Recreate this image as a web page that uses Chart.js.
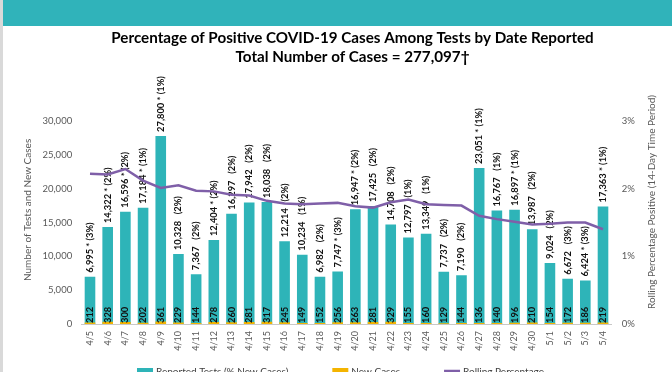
<!DOCTYPE html>
<html><head><meta charset="utf-8">
<script src="https://cdn.jsdelivr.net/npm/chart.js@4.4.1/dist/chart.umd.min.js"></script>
<style>
html,body{margin:0;padding:0;width:672px;height:372px;overflow:hidden;background:#fff;}
#strip{position:absolute;left:0;top:0;width:3px;height:372px;background:#d9d9d9;}
#band{position:absolute;left:3px;top:0;width:669px;height:26px;background:#30B3BA;}
#wrap{position:absolute;left:3px;top:26px;width:669px;height:346px;}
</style></head><body>
<div id="strip"></div><div id="band"></div>
<div id="wrap"><canvas id="c"></canvas></div>
<script>
const titleLines = ['Percentage of Positive COVID-19 Cases Among Tests by Date Reported', 'Total Number of Cases = 277,097\u2020'];
const leftAxisTitle = 'Number of Tests and New Cases';
const rightAxisTitle = 'Rolling Percentage Positive (14-Day Time Period)';
const dates = ['4/5','4/6','4/7','4/8','4/9','4/10','4/11','4/12','4/13','4/14','4/15','4/16','4/17','4/18','4/19','4/20','4/21','4/22','4/23','4/24','4/25','4/26','4/27','4/28','4/29','4/30','5/1','5/2','5/3','5/4'];
const tests = [6995,14322,16596,17184,27800,10328,7367,12404,16297,17942,18038,12214,10234,6982,7747,16947,17425,14708,12797,13349,7737,7190,23051,16767,16897,13987,9024,6672,6424,17363];
const newCases = [212,328,300,202,361,229,144,278,260,281,317,245,149,152,256,263,281,329,155,160,129,144,136,140,196,210,154,172,186,219];
const pctNew = [3,2,2,1,1,2,2,2,2,2,2,2,1,2,3,2,2,2,1,1,2,2,1,1,1,2,2,3,3,1];
const starred = [1,1,1,1,1,0,0,1,0,0,0,0,0,0,1,1,0,0,0,0,0,0,1,0,1,0,0,0,1,1];
const rolling = [2.22,2.21,2.29,2.12,2.01,2.05,1.97,1.96,1.91,1.90,1.82,1.78,1.77,1.78,1.79,1.74,1.72,1.80,1.84,1.77,1.76,1.75,1.60,1.55,1.51,1.47,1.48,1.50,1.50,1.40];
const leftTickMax = 30000, leftTickStep = 5000;
const rightTickMax = 3, rightTickStep = 1;

const FONT = 'Lato';
const TEAL = '#2EB4B8', GOLD = '#F4B400', PURPLE = '#7F5FA8', GRAY = '#595959';

const barLabels = {
  id: 'barLabels',
  afterDatasetDraw(chart, args) {
    if (args.index !== 1) return;
    const ctx = chart.ctx;
    const m0 = chart.getDatasetMeta(0);
    ctx.save();
    ctx.fillStyle = '#111';
    ctx.font = 'bold 9.3px ' + FONT;
    ctx.textAlign = 'left';
    ctx.textBaseline = 'middle';
    m0.data.forEach((bar, i) => {
      const txt = tests[i].toLocaleString('en-US') + (starred[i] ? ' * ' : '   ') + '(' + pctNew[i] + '%)';
      ctx.save(); ctx.translate(bar.x, bar.y - 4); ctx.rotate(-Math.PI / 2); ctx.fillText(txt, 0, 0); ctx.restore();
      ctx.save(); ctx.translate(bar.x, bar.base - 1); ctx.rotate(-Math.PI / 2); ctx.fillText(String(newCases[i]), 0, 0); ctx.restore();
    });
    ctx.restore();
  }
};

const axisTitles = {
  id: 'axisTitles',
  afterDraw(chart) {
    const {ctx, chartArea} = chart;
    const h = chartArea.bottom - chartArea.top;
    ctx.save();
    ctx.fillStyle = GRAY;
    ctx.font = '10px ' + FONT;
    ctx.textAlign = 'center';
    ctx.textBaseline = 'middle';
    ctx.save(); ctx.translate(25, chartArea.top + h * 0.438); ctx.rotate(-Math.PI / 2); ctx.fillText(leftAxisTitle, 0, 0); ctx.restore();
    ctx.save(); ctx.translate(chart.width - 20, chartArea.top + h * 0.399); ctx.rotate(-Math.PI / 2); ctx.fillText(rightAxisTitle, 0, 0); ctx.restore();
    ctx.restore();
  }
};

const titleShift = {
  id: 'titleShift',
  afterLayout(chart) {
    if (chart.titleBlock) { chart.titleBlock.left += 12; }
  }
};

const legendPlugin = {
  id: 'customLegend',
  afterDraw(chart) {
    const ctx = chart.ctx;
    ctx.save();
    ctx.font = '10px ' + FONT;
    const items = [0, 1, 2].map(i => {
      const ds = chart.data.datasets[i];
      return {text: ds.label, color: ds.type === 'line' ? ds.borderColor : ds.backgroundColor, line: ds.type === 'line', w: ctx.measureText(ds.label).width};
    });
    const boxW = 16, gap = 3, spacing = 44;
    const total = items.reduce((s, it) => s + boxW + gap + it.w, 0) + spacing * (items.length - 1);
    let x = chart.width / 2 + 3 - total / 2;
    const y = chart.height - 1.5;
    ctx.textBaseline = 'alphabetic';
    ctx.textAlign = 'left';
    items.forEach(it => {
      if (it.line) {
        ctx.strokeStyle = it.color; ctx.lineWidth = 2.5;
        ctx.beginPath(); ctx.moveTo(x, y + 0.5); ctx.lineTo(x + boxW, y + 0.5); ctx.stroke();
      } else {
        ctx.fillStyle = it.color; ctx.fillRect(x, y - 2.5, boxW, 8);
      }
      ctx.fillStyle = '#404040';
      ctx.fillText(it.text, x + boxW + gap, y + 4);
      x += boxW + gap + it.w + spacing;
    });
    ctx.restore();
  }
};

new Chart(document.getElementById('c'), {
  data: {
    labels: dates,
    datasets: [
      {type: 'bar', label: 'Reported Tests (% New Cases)', data: tests, backgroundColor: TEAL, yAxisID: 'y', grouped: false, order: 3, categoryPercentage: 1, barPercentage: 0.6},
      {type: 'bar', label: 'New Cases', data: newCases, backgroundColor: GOLD, yAxisID: 'y', grouped: false, order: 2, categoryPercentage: 1, barPercentage: 0.6},
      {type: 'line', label: 'Rolling Percentage', data: rolling, borderColor: PURPLE, backgroundColor: PURPLE, borderWidth: 2.5, pointRadius: 0, tension: 0, yAxisID: 'y1', order: 1}
    ]
  },
  options: {
    responsive: true, maintainAspectRatio: false, animation: false, devicePixelRatio: 1,
    layout: {padding: 0},
    plugins: {
      legend: {display: false},
      tooltip: {enabled: false},
      title: {display: true, text: titleLines, color: '#000', fullSize: false,
        font: {family: FONT, size: 15.2, weight: 'bold', lineHeight: 1.25},
        padding: {top: 2.5, bottom: 54.5}}
    },
    scales: {
      x: {
        grid: {display: false, drawTicks: false},
        border: {display: true, color: '#c8c8c8', width: 1},
        ticks: {autoSkip: false, minRotation: 90, maxRotation: 90, padding: 7, color: GRAY, font: {family: FONT, size: 9}},
        afterFit: s => { s.height = 48; }
      },
      y: {
        position: 'left', min: 0, max: leftTickMax,
        grid: {display: false, drawTicks: false},
        border: {display: false},
        ticks: {stepSize: leftTickStep, padding: 9, color: GRAY, font: {family: FONT, size: 9.5}, callback: v => v.toLocaleString('en-US')},
        afterFit: s => { s.width = 78.15; }
      },
      y1: {
        position: 'right', min: 0, max: rightTickMax,
        grid: {display: false, drawTicks: false},
        border: {display: false},
        ticks: {stepSize: rightTickStep, padding: 10, color: GRAY, font: {family: FONT, size: 9.5}, callback: v => v + '%'},
        afterFit: s => { s.width = 60.15; }
      }
    }
  },
  plugins: [barLabels, axisTitles, titleShift, legendPlugin]
});
</script>
</body></html>
